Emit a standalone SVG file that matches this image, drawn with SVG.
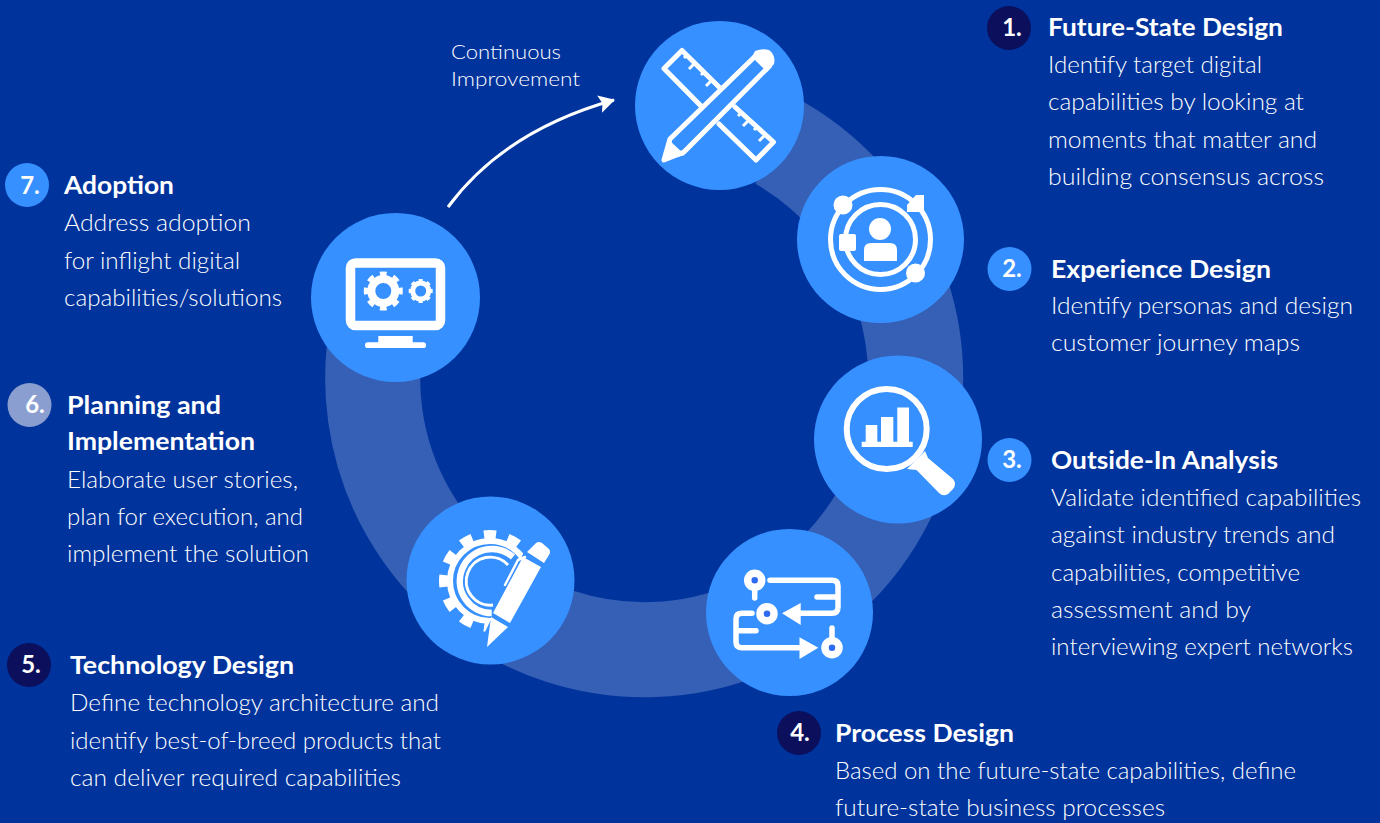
<svg xmlns="http://www.w3.org/2000/svg" width="1380" height="823" viewBox="0 0 1380 823">
<style>
text{font-family:"Lato","Noto Sans","Liberation Sans",sans-serif;fill:#fff}
.h{font-size:24px;font-weight:700}
.b{font-size:24px;font-weight:300;fill:#fff}
.n{font-size:24px;font-weight:700;text-anchor:middle}
.c{fill:#3690ff}
.w{fill:#fff}
.s{fill:none;stroke:#fff;stroke-linecap:round;stroke-linejoin:round}
</style>
<defs><marker id="ah" markerUnits="userSpaceOnUse" markerWidth="20" markerHeight="20" refX="15" refY="9" orient="auto"><path d="M0 0L16 9L0 18L3 9Z" fill="#fff"/></marker></defs>
<rect width="1380" height="823" fill="#00339c"/>
<g id="connectors">
<path d="M779 142.6A271.5 271.5 0 1 1 379 320" fill="none" stroke="#3560b5" stroke-width="95"/>
<path d="M448 207C490 150 550 118 614 100" fill="none" stroke="#fff" stroke-width="3" marker-end="url(#ah)"/>
</g>
<text x="451" y="59" font-size="20" font-weight="300" textLength="110" lengthAdjust="spacingAndGlyphs">Continuous</text>
<text x="451" y="86" font-size="20" font-weight="300" textLength="129" lengthAdjust="spacingAndGlyphs">Improvement</text>
<g id="step1">
<circle class="c" cx="719.5" cy="105.5" r="84.5"/>
<path class="s" stroke-width="5" stroke-linecap="butt" stroke-linejoin="miter" d="M702 107L664 68.5L682 50.5L720.500 88.500M735 107L773.500 142L756 160L719 124"/>
<path fill="none" stroke="#fff" stroke-width="3" d="M687 55l-3 3M695 63l-6 6M704 72l-3 3M712 80l-6 6M741 113l-3 3M749 120l-6 6M757 127l-3 3M765 135l-6 6"/>
<path class="s" stroke-width="5" fill="#3690ff" d="M670 139L757.500 54L769.500 66L684 152L664 160Z"/>
<path class="w" d="M755 51Q762 48 769 50Q776 55 774 64L767 72L752 57Z"/>
<path class="w" d="M663 161L669 140L685 155Z"/>
</g>
<g id="step2">
<circle class="c" cx="880.5" cy="239.5" r="83.5"/>
<circle cx="880.5" cy="239.5" r="50" fill="none" stroke="#fff" stroke-width="5"/>
<circle cx="880.5" cy="239.5" r="35" fill="none" stroke="#fff" stroke-width="5"/>
<circle class="w" cx="843" cy="205" r="9.5"/>
<path class="w" d="M907 212V205L916 195H924V212Z"/>
<rect class="w" x="839" y="234" width="17" height="17" rx="2"/>
<circle class="w" cx="915.5" cy="273" r="9.5"/>
<circle class="w" cx="880" cy="229" r="11"/>
<path class="w" d="M864 261V250Q864 243 871 243H890Q897 243 897 250V261Z"/>
</g>
<g id="step3">
<circle class="c" cx="898" cy="439.5" r="84"/>
<circle cx="886.7" cy="429" r="40" fill="none" stroke="#fff" stroke-width="6"/>
<path class="w" d="M865.7 425H877.3V442H865.7ZM881 417H893.3V442H881ZM897.3 407.5H909V442H897.3ZM861.7 441.7H912.7V447H861.7Z"/>
<path class="w" d="M907 469L925 451L928 458L953 479Q957 484 953 489L948 494Q943 497 939 493L916.5 470Z"/>
</g>
<g id="step4">
<circle class="c" cx="789.5" cy="612.5" r="83.5"/>
<path class="s" stroke-width="5.5" d="M754.7 582V598M770 580.3H832Q838 580.3 838 586V607Q838 613.3 832 613.3H796M817 597H838M752 613.3H742Q736 613.3 736 619V642Q736 647.7 742 647.7H802M737 630.7H756M832 628V645"/>
<path class="w" d="M782 613.3L800.7 603V625ZM818.3 647.7L799.5 637.3V659Z"/>
<g fill="#2f6bf0" stroke="#fff" stroke-width="7.5"><circle cx="754.7" cy="580.3" r="7"/><circle cx="767" cy="613.7" r="7"/><circle cx="832" cy="647.7" r="7"/></g>
</g>
<g id="step5">
<circle class="c" cx="490.5" cy="580.5" r="84"/>
<clipPath id="gc"><path d="M430 520H522V530L524 552L485 632L430 640Z"/></clipPath>
<g clip-path="url(#gc)"><circle cx="490" cy="581" r="40" fill="none" stroke="#fff" stroke-width="6"/><circle cx="490" cy="581" r="46.5" fill="none" stroke="#fff" stroke-width="9" pathLength="24" stroke-dasharray="1 1" stroke-dashoffset="0.5"/></g>
<path fill="none" stroke="#fff" stroke-width="6.5" d="M513 557A32 32 0 1 0 491.700 613"/>
<path fill="none" stroke="#fff" stroke-width="3" d="M508 565A24 24 0 1 0 493 605"/>
<path class="w" d="M493 613L510 623L541 567L523 557ZM527 552L536 543Q539 541 542 543L549 549Q551 552 549 555L544 563ZM487 647L491 617L508 627Z"/>
<path class="s" stroke-width="2.5" d="M505 585L518 560L525 557"/>
</g>
<g id="step7">
<circle class="c" cx="395.5" cy="297.5" r="84.5"/>
<rect x="350.5" y="263" width="90" height="62.5" rx="5" fill="none" stroke="#fff" stroke-width="9.5"/>
<rect class="w" x="378.3" y="336" width="34.4" height="8"/>
<rect class="w" x="365" y="342.3" width="61" height="5.7" rx="2.85"/>
<g fill="none" stroke="#fff"><circle cx="383.3" cy="291" r="12" stroke-width="8"/><circle cx="383.3" cy="291" r="17" stroke-width="5" pathLength="16" stroke-dasharray="1 1" stroke-dashoffset="0.5"/><circle cx="420.7" cy="291" r="8" stroke-width="5"/><circle cx="420.7" cy="291" r="10.5" stroke-width="3" pathLength="16" stroke-dasharray="1 1" stroke-dashoffset="0.5"/></g>
</g>
<g id="label1"><circle cx="1009" cy="28" r="22" fill="#0b0f5c"/><text class="n" x="1012" y="36">1.</text><text class="h" x="1048" y="36" textLength="235" lengthAdjust="spacingAndGlyphs">Future-State Design</text>
<text class="b" x="1048" y="73" textLength="214" lengthAdjust="spacingAndGlyphs">Identify target digital</text><text class="b" x="1048" y="110" textLength="256" lengthAdjust="spacingAndGlyphs">capabilities by looking at</text><text class="b" x="1048" y="148" textLength="269" lengthAdjust="spacingAndGlyphs">moments that matter and</text><text class="b" x="1048" y="185" textLength="276" lengthAdjust="spacingAndGlyphs">building consensus across</text></g>
<g id="label2"><circle class="c" cx="1009.5" cy="269" r="22"/><text class="n" x="1012" y="277">2.</text><text class="h" x="1051" y="278" textLength="220" lengthAdjust="spacingAndGlyphs">Experience Design</text>
<text class="b" x="1051" y="314" textLength="302" lengthAdjust="spacingAndGlyphs">Identify personas and design</text><text class="b" x="1051" y="351" textLength="249" lengthAdjust="spacingAndGlyphs">customer journey maps</text></g>
<g id="label3"><circle class="c" cx="1009.5" cy="460" r="22"/><text class="n" x="1012" y="468">3.</text><text class="h" x="1051" y="469" textLength="227" lengthAdjust="spacingAndGlyphs">Outside-In Analysis</text>
<text class="b" x="1051" y="506" textLength="310" lengthAdjust="spacingAndGlyphs">Validate identified capabilities</text><text class="b" x="1051" y="543" textLength="284" lengthAdjust="spacingAndGlyphs">against industry trends and</text><text class="b" x="1051" y="581" textLength="249" lengthAdjust="spacingAndGlyphs">capabilities, competitive</text><text class="b" x="1051" y="618" textLength="200" lengthAdjust="spacingAndGlyphs">assessment and by</text><text class="b" x="1051" y="655" textLength="302" lengthAdjust="spacingAndGlyphs">interviewing expert networks</text></g>
<g id="label4"><circle cx="799" cy="733" r="22" fill="#0b0f5c"/><text class="n" x="800" y="741">4.</text><text class="h" x="835" y="742" textLength="179" lengthAdjust="spacingAndGlyphs">Process Design</text>
<text class="b" x="835" y="779" textLength="461" lengthAdjust="spacingAndGlyphs">Based on the future-state capabilities, define</text><text class="b" x="835" y="816" textLength="330" lengthAdjust="spacingAndGlyphs">future-state business processes</text></g>
<g id="label5"><circle cx="29" cy="665" r="22" fill="#0b0f5c"/><text class="n" x="31" y="673">5.</text><text class="h" x="70" y="674" textLength="224" lengthAdjust="spacingAndGlyphs">Technology Design</text>
<text class="b" x="70" y="711" textLength="369" lengthAdjust="spacingAndGlyphs">Define technology architecture and</text><text class="b" x="70" y="749" textLength="371" lengthAdjust="spacingAndGlyphs">identify best-of-breed products that</text><text class="b" x="70" y="786" textLength="331" lengthAdjust="spacingAndGlyphs">can deliver required capabilities</text></g>
<g id="label6"><circle cx="29.5" cy="405" r="22" fill="#8a9fd0"/><text class="n" x="35" y="413">6.</text><text class="h" x="67" y="414" textLength="154" lengthAdjust="spacingAndGlyphs">Planning and</text><text class="h" x="67" y="450" textLength="188" lengthAdjust="spacingAndGlyphs">Implementation</text>
<text class="b" x="67" y="488" textLength="231" lengthAdjust="spacingAndGlyphs">Elaborate user stories,</text><text class="b" x="67" y="525" textLength="236" lengthAdjust="spacingAndGlyphs">plan for execution, and</text><text class="b" x="67" y="562" textLength="242" lengthAdjust="spacingAndGlyphs">implement the solution</text></g>
<g id="label7"><circle class="c" cx="27" cy="185" r="22"/><text class="n" x="30" y="194">7.</text><text class="h" x="64" y="194" textLength="110" lengthAdjust="spacingAndGlyphs">Adoption</text>
<text class="b" x="64" y="231" textLength="187" lengthAdjust="spacingAndGlyphs">Address adoption</text><text class="b" x="64" y="269" textLength="176" lengthAdjust="spacingAndGlyphs">for inflight digital</text><text class="b" x="64" y="306" textLength="218" lengthAdjust="spacingAndGlyphs">capabilities/solutions</text></g>
</svg>
